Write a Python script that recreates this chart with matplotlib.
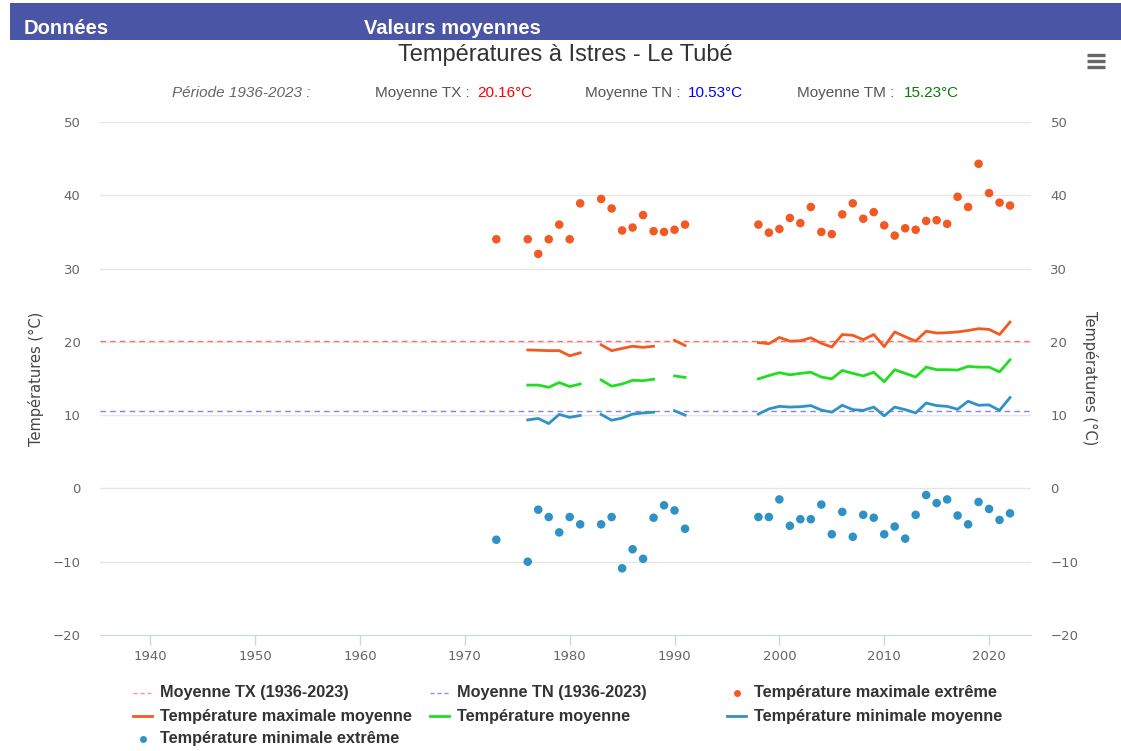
import numpy as np
import matplotlib.pyplot as plt
from matplotlib.lines import Line2D
from matplotlib.patches import Rectangle

# years 1973 .. 2022, None = no data
years = list(range(1973, 2023))

tx_ext = [34.0, None, None, 34.0, 32.0, 34.0, 36.0, 34.0, 38.9, None,
          39.5, 38.2, 35.2, 35.6, 37.3, 35.1, 35.0, 35.3, 36.0, None,
          None, None, None, None, None, 36.0, 34.9, 35.4, 36.9, 36.2,
          38.4, 35.0, 34.7, 37.4, 38.9, 36.8, 37.7, 35.9, 34.5, 35.5,
          35.3, 36.5, 36.6, 36.1, 39.8, 38.4, 44.3, 40.3, 39.0, 38.6]

tn_ext = [-7.0, None, None, -10.0, -2.9, -3.9, -6.0, -3.9, -4.9, None,
          -4.9, -3.9, -10.9, -8.3, -9.6, -4.0, -2.3, -3.0, -5.5, None,
          None, None, None, None, None, -3.9, -3.9, -1.5, -5.1, -4.2,
          -4.2, -2.2, -6.25, -3.2, -6.6, -3.6, -4.0, -6.25, -5.2, -6.85,
          -3.6, -0.9, -2.0, -1.5, -3.7, -4.9, -1.85, -2.8, -4.3, -3.4]

tx_moy = [None, None, None, 18.9, 18.85, 18.8, 18.8, 18.1, 18.5, None,
          19.6, 18.8, 19.1, 19.4, 19.25, 19.4, None, 20.2, 19.5, None,
          None, None, None, None, None, 19.9, 19.75, 20.6, 20.1, 20.15,
          20.55, 19.8, 19.3, 21.0, 20.9, 20.3, 21.0, 19.35, 21.35, 20.7,
          20.1, 21.45, 21.2, 21.25, 21.35, 21.55, 21.8, 21.7, 21.0, 22.7]

tm_moy = [None, None, None, 14.1, 14.1, 13.8, 14.45, 13.9, 14.25, None,
          14.8, 13.95, 14.25, 14.75, 14.7, 14.9, None, 15.35, 15.15, None,
          None, None, None, None, None, 14.95, 15.4, 15.8, 15.5, 15.7,
          15.85, 15.2, 14.95, 16.1, 15.7, 15.35, 15.85, 14.55, 16.2, 15.7,
          15.2, 16.55, 16.2, 16.2, 16.15, 16.65, 16.55, 16.55, 15.9, 17.55]

tn_moy = [None, None, None, 9.35, 9.55, 8.85, 10.1, 9.7, 9.95, None,
          10.1, 9.3, 9.6, 10.15, 10.3, 10.4, None, 10.6, 10.0, None,
          None, None, None, None, None, 10.15, 10.85, 11.2, 11.1, 11.15,
          11.3, 10.7, 10.4, 11.35, 10.75, 10.65, 11.1, 9.9, 11.1, 10.75,
          10.3, 11.65, 11.3, 11.2, 10.8, 11.9, 11.35, 11.4, 10.65, 12.4]

moy_tx = 20.16
moy_tn = 10.53
moy_tm = 15.23

c_tx = '#f15a22'
c_tn = '#2f92c4'
c_tm = '#22dd22'
grey = '#666666'
FONT = 'Liberation Sans'


def arr(v):
    return np.array([np.nan if x is None else x for x in v], dtype=float)


fig = plt.figure(figsize=(11.21, 7.51), dpi=100)
W, H = 1121., 751.

def fx(px): return px / W
def fy(py): return 1 - py / H

# header banner
fig.add_artist(Rectangle((fx(10), fy(40)), 1 - fx(10), (40 - 3) / H,
                         transform=fig.transFigure, color='#4a55a5', lw=0))
fig.text(fx(24), fy(29), 'Données', color='white', fontsize=14.5,
         fontweight='bold', family=FONT, va='center')
fig.text(fx(364), fy(29), 'Valeurs moyennes', color='white', fontsize=14.5,
         fontweight='bold', family=FONT, va='center')

# hamburger menu
for yy in (55, 61, 67):
    fig.add_artist(Line2D([fx(1087), fx(1105)], [fy(yy), fy(yy)],
                          transform=fig.transFigure, color=grey, lw=2.4,
                          solid_capstyle='butt'))

fig.text(fx(565), fy(55), 'Températures à Istres - Le Tubé', ha='center',
         va='center', fontsize=17, color='#333333', family=FONT)

sub_y = fy(93)
fig.text(fx(172), sub_y, 'Période 1936-2023 :', style='italic', fontsize=11,
         color=grey, family=FONT, va='center')
for x0, lab, x1, val, col in [(375, 'Moyenne TX :', 477, moy_tx, '#ff0000'),
                              (585, 'Moyenne TN :', 688, moy_tn, '#0000ff'),
                              (797, 'Moyenne TM :', 904, moy_tm, '#008000')]:
    fig.text(fx(x0), sub_y, lab, fontsize=11, color='#555555', family=FONT, va='center')
    fig.text(fx(x1), sub_y, '%.2f°C' % val, fontsize=11, color=col, family=FONT, va='center')

ax = fig.add_axes([fx(100), fy(635), fx(1031) - fx(100), (635 - 122) / H])
ax.set_xlim(1935.2, 2024.0)
ax.set_ylim(-20, 50)
ax.set_yticks(range(-20, 51, 10))
ax.set_xticks(range(1940, 2021, 10))
ax.grid(axis='y', color='#e6e6e6', lw=1)
ax.set_axisbelow(True)
for s in ('top', 'left', 'right'):
    ax.spines[s].set_visible(False)
ax.spines['bottom'].set_color('#ccd6eb')
ax.tick_params(axis='x', colors='#ccd6eb', length=7, width=1, labelcolor=grey,
               labelsize=9.5, pad=4)
ax.tick_params(axis='y', length=0, labelcolor=grey, labelsize=9.5, pad=14)
ax.set_ylabel('Températures (°C)', fontsize=10.5, color='#444444', labelpad=6)

ax2 = ax.twinx()
ax2.set_ylim(ax.get_ylim())
ax2.set_yticks(range(-20, 51, 10))
for s in ax2.spines.values():
    s.set_visible(False)
ax2.tick_params(axis='y', length=0, labelcolor=grey, labelsize=9.5, pad=14)
ax2.set_ylabel('Températures (°C)', fontsize=10.5, color='#444444', rotation=270,
               labelpad=14)

yrs = np.array(years)
ax.axhline(moy_tx, color='#ff7070', lw=1, ls=(0, (4, 3)), zorder=2)
ax.axhline(moy_tn, color='#8080ff', lw=1, ls=(0, (4, 3)), zorder=2)
ax.plot(yrs, arr(tx_moy), color=c_tx, lw=2, zorder=3)
ax.plot(yrs, arr(tm_moy), color=c_tm, lw=2, zorder=3)
ax.plot(yrs, arr(tn_moy), color=c_tn, lw=2, zorder=3)
ax.scatter(yrs, arr(tx_ext), s=38, color=c_tx, edgecolor='none', zorder=4)
ax.scatter(yrs, arr(tn_ext), s=38, color=c_tn, edgecolor='none', zorder=4)

# legend, laid out like the original (3 fixed-width columns)
leg = [
    (133, 693, 'dash', '#ff9090', 'Moyenne TX (1936-2023)'),
    (430, 693, 'dash', '#9090ff', 'Moyenne TN (1936-2023)'),
    (727, 693, 'dot', c_tx, 'Température maximale extrême'),
    (133, 716, 'line', c_tx, 'Température maximale moyenne'),
    (430, 716, 'line', c_tm, 'Température moyenne'),
    (727, 716, 'line', c_tn, 'Température minimale moyenne'),
    (133, 739, 'dot', c_tn, 'Température minimale extrême'),
]
for x0, y0, kind, col, lab in leg:
    xs = [fx(x0), fx(x0 + 19)]
    ys = [fy(y0), fy(y0)]
    if kind == 'dash':
        fig.add_artist(Line2D(xs, ys, transform=fig.transFigure, color=col,
                              lw=1, ls=(0, (3, 2))))
    elif kind == 'line':
        fig.add_artist(Line2D(xs, ys, transform=fig.transFigure, color=col, lw=2))
    else:
        fig.add_artist(Line2D([fx(x0 + 9.5)], [fy(y0)], transform=fig.transFigure,
                              marker='o', ms=5, color=col, mec='none'))
    fig.text(fx(x0 + 27), fy(y0), lab, fontsize=11.7, fontweight='bold',
             color='#333333', family=FONT, va='center')

fig.savefig('out.png', dpi=100)
